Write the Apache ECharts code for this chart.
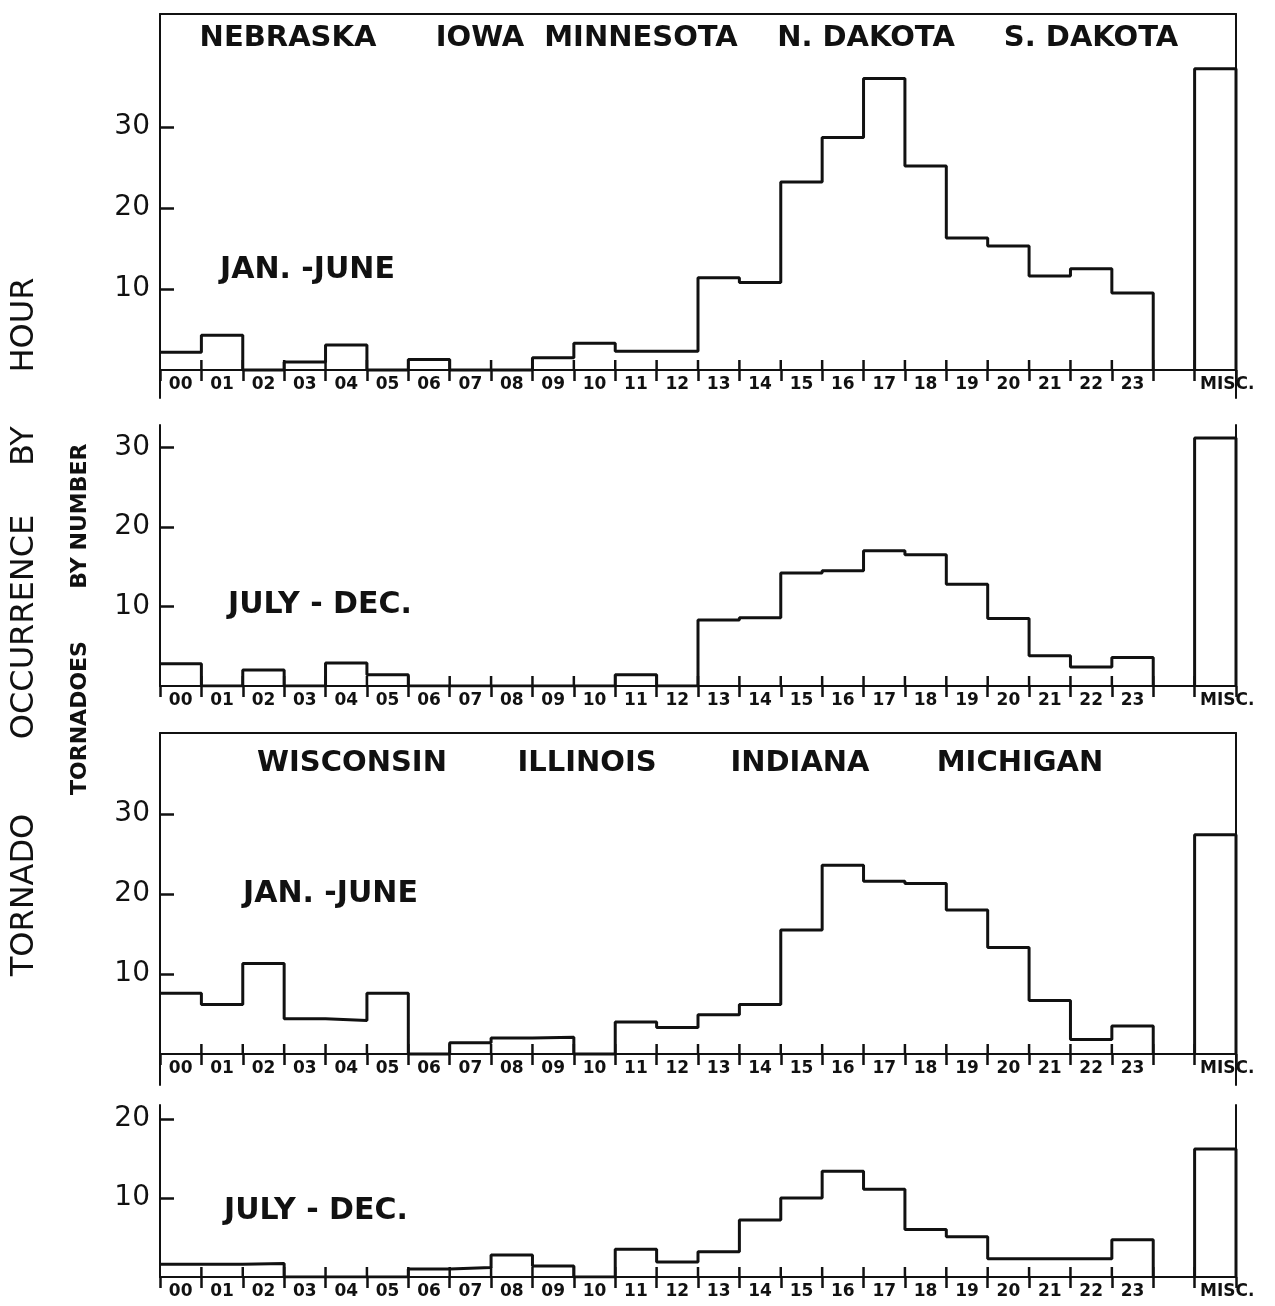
<!DOCTYPE html>
<html>
<head>
<meta charset="utf-8">
<script src="https://cdn.jsdelivr.net/npm/echarts@6/dist/echarts.min.js"></script>
<style>
html,body{margin:0;padding:0;background:#fff;}
#chart{width:1275px;height:1306px;}
</style>
</head>
<body>
<div id="chart"></div>
<script>
// ---------- data ----------
const hourLabels = ['00','01','02','03','04','05','06','07','08','09','10','11',
                    '12','13','14','15','16','17','18','19','20','21','22','23'];
const miscLabel = 'MISC.';

// Nebraska, Iowa, Minnesota, N. Dakota, S. Dakota
const westJanJun = [2.2, 4.3, 0, 1.0, 3.1, 0, 1.3, 0, 0, 1.5, 3.3, 2.3,
                    2.3, 11.4, 10.8, 23.2, 28.7, 36.0, 25.2, 16.3, 15.3, 11.6, 12.5, 9.5];
const westJanJunMisc = 37.2;
const westJulDec = [2.8, 0, 2.0, 0, 2.9, 1.4, 0, 0, 0, 0, 0, 1.4,
                    0, 8.3, 8.6, 14.2, 14.5, 17.0, 16.5, 12.8, 8.5, 3.8, 2.4, 3.6];
const westJulDecMisc = 31.2;

// Wisconsin, Illinois, Indiana, Michigan
const eastJanJun = [7.6, 6.2, 11.3, 4.4, 4.2, 7.6, 0, 1.4, 2.0, 2.1, 0, 4.0,
                    3.3, 4.9, 6.2, 15.5, 23.6, 21.6, 21.3, 18.0, 13.3, 6.7, 1.8, 3.5];
const eastJanJunMisc = 27.4;
const eastJulDec = [1.6, 1.6, 1.7, 0, 0, 0, 1.0, 1.2, 2.8, 1.4, 0, 3.5,
                    1.9, 3.2, 7.2, 10.0, 13.4, 11.1, 6.0, 5.1, 2.3, 2.3, 2.3, 4.7];
const eastJulDecMisc = 16.2;

const yTicksTall = [10, 20, 30];
const yTicksShort = [10, 20];

const westStates = ['NEBRASKA', 'IOWA', 'MINNESOTA', 'N. DAKOTA', 'S. DAKOTA'];
const eastStates = ['WISCONSIN', 'ILLINOIS', 'INDIANA', 'MICHIGAN'];
const seasonJanJun = 'JAN. -JUNE';
const seasonJulDec = 'JULY - DEC.';
const mainTitleWords = ['TORNADO', 'OCCURRENCE', 'BY', 'HOUR'];
const axisTitleWords = ['TORNADOES', 'BY', 'NUMBER'];

// ---------- layout ----------
const INK = '#111';
const FONT = '"DejaVu Sans", sans-serif';
const GRID_LEFT = 160, GRID_RIGHT = 39;
const panels = [
  {values: westJanJun, misc: westJanJunMisc, ticks: yTicksTall, top: 14,   base: 370,  bottom: 398,  ppu: 8.1,  frame: true},
  {values: westJulDec, misc: westJulDecMisc, ticks: yTicksTall, top: 425,  base: 686,  bottom: 686,  ppu: 7.95, frame: false},
  {values: eastJanJun, misc: eastJanJunMisc, ticks: yTicksTall, top: 733,  base: 1054, bottom: 1085, ppu: 8.0,  frame: true},
  {values: eastJulDec, misc: eastJulDecMisc, ticks: yTicksShort, top: 1105, base: 1277, bottom: 1277, ppu: 7.9,  frame: false}
];

const categories = hourLabels.concat(['', {value: miscLabel, textStyle: {padding: [0, 0, 0, 24]}}]);
const nBands = categories.length;           // 26
const miscIndex = hourLabels.length + 1;    // 25

const grid = [], xAxis = [], yAxis = [], series = [];
panels.forEach((p, g) => {
  const H = 1306;
  grid.push({left: GRID_LEFT, right: GRID_RIGHT, top: p.top, bottom: H - p.bottom, containLabel: false});
  const ymax = (p.base - p.top) / p.ppu;
  const ymin = -(p.bottom - p.base) / p.ppu;
  // category axis: baseline, down ticks, hour labels
  xAxis.push({
    gridIndex: g, type: 'category', data: categories, boundaryGap: true, position: 'bottom',
    axisLine: {show: true, onZero: true, lineStyle: {color: INK, width: 2}},
    axisTick: {show: true, interval: 0, length: 11, lineStyle: {color: INK, width: 2.5}},
    axisLabel: {interval: 0, margin: 6 - (p.bottom - p.base), fontSize: 17, fontWeight: 'bold', fontFamily: FONT, color: INK},
    splitLine: {show: false}
  });
  // value axis for marks; its line is the top frame
  xAxis.push({
    gridIndex: g, type: 'value', min: 0, max: nBands, position: 'top',
    axisLine: {show: p.frame, onZero: false, lineStyle: {color: INK, width: 2}},
    axisTick: {show: false}, axisLabel: {show: false}, splitLine: {show: false}
  });
  yAxis.push({
    gridIndex: g, type: 'value', min: ymin, max: ymax, position: 'left',
    axisLine: {show: true, onZero: false, lineStyle: {color: INK, width: 2}},
    axisTick: {show: true, inside: true, length: 14, customValues: p.ticks, lineStyle: {color: INK, width: 2.5}},
    axisLabel: {show: true, customValues: p.ticks, margin: 10, fontSize: 28, fontFamily: FONT, color: INK},
    splitLine: {show: false}
  });
  yAxis.push({
    gridIndex: g, type: 'value', min: ymin, max: ymax, position: 'right',
    axisLine: {show: true, onZero: false, lineStyle: {color: INK, width: 2}},
    axisTick: {show: false}, axisLabel: {show: false}, splitLine: {show: false}
  });
  const xi = 2 * g + 1, yi = 2 * g;
  // hourly step outline
  series.push({
    type: 'line', xAxisIndex: xi, yAxisIndex: yi, step: 'end', symbol: 'none', silent: true,
    data: p.values.map((v, i) => [i, v]).concat([[p.values.length, 0]]),
    lineStyle: {color: INK, width: 3}
  });
  // MISC bar outline
  series.push({
    type: 'line', xAxisIndex: xi, yAxisIndex: yi, symbol: 'none', silent: true,
    data: [[miscIndex, 0], [miscIndex, p.misc], [miscIndex + 1, p.misc], [miscIndex + 1, 0]],
    lineStyle: {color: INK, width: 3}
  });
  // upward half of the hour tick marks
  const bounds = [];
  for (let b = 1; b <= miscIndex; b++) bounds.push([b, 0]);
  series.push({
    type: 'custom', xAxisIndex: xi, yAxisIndex: yi, silent: true, data: bounds,
    renderItem: (params, api) => {
      const pt = api.coord([api.value(0), 0]);
      return {type: 'line', shape: {x1: pt[0], y1: pt[1], x2: pt[0], y2: pt[1] - 10},
              style: {stroke: INK, lineWidth: 2.5}};
    }
  });
});

// ---------- text ----------
function txt(text, x, y, size, weight, align, rot) {
  return {
    type: 'text', x: x, y: y, rotation: rot || 0, silent: true,
    style: {text: text, fontSize: size, fontWeight: weight, fontFamily: FONT, fill: INK,
            align: align, textAlign: align, verticalAlign: 'middle', textVerticalAlign: 'middle'}
  };
}
const westX = [288, 480, 641, 866, 1091];
const eastX = [352, 587, 800, 1020];
const graphics = [];
westStates.forEach((s, i) => graphics.push(txt(s, westX[i], 38, 29, 'bold', 'center')));
eastStates.forEach((s, i) => graphics.push(txt(s, eastX[i], 763, 29, 'bold', 'center')));
graphics.push(txt(seasonJanJun, 220, 270, 30, 'bold', 'left'));
graphics.push(txt(seasonJulDec, 228, 605, 30, 'bold', 'left'));
graphics.push(txt(seasonJanJun, 243, 894, 30, 'bold', 'left'));
graphics.push(txt(seasonJulDec, 224, 1211, 30, 'bold', 'left'));
const mainY = [895, 627, 446, 325];
mainTitleWords.forEach((w, i) => graphics.push(txt(w, 25, mainY[i], 32, 'normal', 'center', Math.PI / 2)));
const subY = [718, 573, 497];
axisTitleWords.forEach((w, i) => graphics.push(txt(w, 80, subY[i], 22, 'bold', 'center', Math.PI / 2)));

const chart = echarts.init(document.getElementById('chart'), null, {renderer: 'canvas'});
chart.setOption({
  animation: false,
  backgroundColor: '#fff',
  grid: grid, xAxis: xAxis, yAxis: yAxis, series: series,
  graphic: {elements: graphics}
});
</script>
</body>
</html>
